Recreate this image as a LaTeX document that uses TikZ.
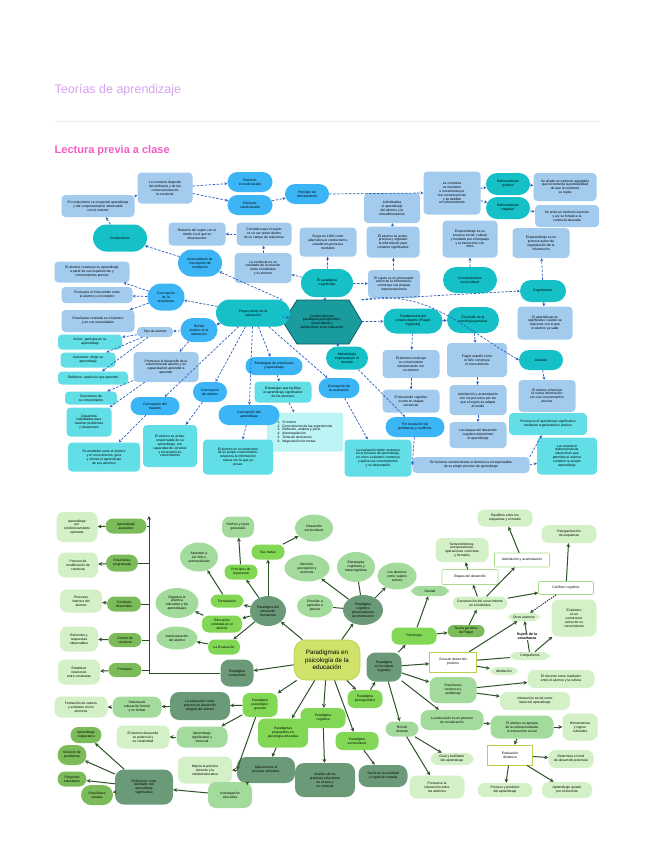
\documentclass[tikz,border=0pt]{standalone}
\usepackage{fontspec}
\setmainfont{Liberation Sans}
\usetikzlibrary{arrows.meta,shapes.misc,shapes.geometric}
\definecolor{purp}{HTML}{D6A4EE}
\definecolor{pink}{HTML}{F25EC4}
\definecolor{sep}{HTML}{E8EDF2}
\definecolor{lbc}{HTML}{A3CBEE}
\definecolor{bbc}{HTML}{3BB5F5}
\definecolor{tlc}{HTML}{15C0C6}
\definecolor{cyc}{HTML}{62DFE6}
\definecolor{pcy}{HTML}{BDF4F6}
\definecolor{hexf}{HTML}{1A9B9E}
\definecolor{hexd}{HTML}{0B5F66}
\definecolor{eblue}{HTML}{2A5FC0}
\definecolor{gdark}{HTML}{6A9A78}
\definecolor{gmed}{HTML}{7BBB5A}
\definecolor{gbri}{HTML}{82D855}
\definecolor{glig}{HTML}{A3DB9C}
\definecolor{gpal}{HTML}{D3F0C6}
\definecolor{gcen}{HTML}{D0E26A}
\definecolor{gcenb}{HTML}{B9D24E}
\definecolor{gwb}{HTML}{A8DC8C}
\definecolor{gedge}{HTML}{2D5227}
\newcommand\nd[7]{\node[#1,minimum width=#5pt,minimum height=#6pt] (#2) at (#3,#4) {#7};}
\tikzset{
  every node/.style={font=\fontsize{3.35}{3.9}\selectfont, align=center, inner sep=0.5pt},
  lb/.style={fill=lbc, rounded corners=4pt},
  bb/.style={fill=bbc, shape=rounded rectangle},
  tl/.style={fill=tlc, shape=rounded rectangle},
  cy/.style={fill=cyc, rounded corners=4pt},
  pc/.style={fill=pcy, rounded corners=2pt},
  e1/.style={draw=eblue, line width=0.7pt, dash pattern=on 2.5pt off 1.5pt, -{Stealth[length=3pt,width=3pt]}},
  gd/.style={fill=gdark, rounded corners=9pt},
  gm/.style={fill=gmed, shape=rounded rectangle},
  gb/.style={fill=gbri, rounded corners=7pt},
  gl/.style={fill=glig, rounded corners=8pt},
  gp/.style={fill=gpal, rounded corners=7pt},
  gw/.style={fill=white, draw=gwb, line width=0.6pt, rounded corners=1pt},
  gy/.style={fill=white, draw=gcenb, line width=0.7pt},
  e2/.style={draw=gedge, line width=1pt, -{Stealth[length=3.8pt,width=3.8pt]}},
  e2n/.style={draw=gedge, line width=1pt},
}
\begin{document}
\begin{tikzpicture}[x=1pt,y=-1pt]
\useasboundingbox[fill=white] (0,0) rectangle (655,848);
% header
\node[anchor=west, font=\fontsize{12.5}{15}\selectfont, text=purp] (title) at (54,90) {Teorías de aprendizaje};
\draw[sep, line width=1pt] (55,122) -- (600,122);
\node[anchor=west, font=\bfseries\fontsize{11}{13}\selectfont, text=pink] (sub) at (54,151) {Lectura previa a clase};

%%%%%%%%%%%%%%%% DIAGRAM 1 %%%%%%%%%%%%%%%%
\fill[hexf, draw=hexd, line width=0.8pt] (283,322) -- (297,300) -- (349,300) -- (362,322) -- (349,344) -- (297,344) -- cycle;
\node[minimum width=79pt, minimum height=44pt] (hex) at (322,322) {Constructivismo:\\paradigma psicogenético,\\sociocultural y\\aplicaciones en la educación};

\nd{tl}{conductismo}{120}{238}{55}{27}{Conductismo}
\nd{lb}{d1b2}{98}{206}{73}{22}{El conductismo se ocupa del aprendizaje\\y del comportamiento observable\\con el entorno}
\nd{lb}{d1b3}{165}{188}{55}{31}{La conducta depende\\del ambiente y de las\\consecuencias de\\la conducta}
\nd{bb}{d1ei}{250}{182}{46}{20}{Estímulo\\incondicionado}
\nd{bb}{d1ec}{250}{205}{46}{20}{Estímulo\\condicionado}
\nd{bb}{d1pr}{307}{194}{45}{20}{Principio de\\reforzamiento}
\nd{lb}{d1b7}{392}{208}{56}{30}{Individualiza\\el aprendizaje\\del alumno y la\\retroalimentación}
\nd{lb}{d1b8}{452}{193}{57}{43}{La conducta\\se mantiene\\o incrementa por\\sus consecuencias\\y se debilita\\sin reforzamiento}
\nd{tl}{d1rp}{508}{184}{45}{22}{Reforzamiento\\positivo}
\nd{tl}{d1rn}{508}{208}{45}{22}{Reforzamiento\\negativo}
\nd{lb}{d1b11}{565}{187}{63}{28}{Se añade un estímulo agradable\\que incrementa la probabilidad\\de que la conducta\\se repita}
\nd{lb}{d1b12}{567}{216}{64}{22}{Se retira un estímulo aversivo\\y así se fortalece la\\conducta deseada}
\nd{lb}{d1b13}{470}{239}{55}{37}{El aprendizaje es un\\proceso social, cultural\\y mediado por el lenguaje\\y la interacción con\\otros}
\nd{lb}{d1b14}{541}{243}{57}{30}{El aprendizaje es un\\proceso activo de\\organización de la\\información}
\nd{tl}{d1cs}{470}{280}{55}{26}{Constructivismo\\sociocultural}
\nd{tl}{d1cg}{543}{291}{47}{22}{Cognitivismo}
\nd{tl}{d1pc}{327}{283}{53}{28}{El paradigma\\cognitivista}
\nd{lb}{d1b18}{328}{242}{57}{29}{Surge en 1950 como\\alternativa al conductismo,\\estudia los procesos\\mentales}
\nd{lb}{d1b19}{393}{242}{53}{31}{El alumno es activo,\\procesa y organiza\\la información para\\construir significados}
\nd{lb}{d1b20}{394}{284}{52}{28}{El sujeto es un procesador\\activo de la información,\\construye sus propias\\representaciones}
\nd{lb}{d1b21}{264}{234}{55}{23}{Considera que el sujeto\\es un ser activo dentro\\de un campo de relaciones}
\nd{lb}{d1b22}{263}{268}{57}{30}{La conducta es un\\resultado de la relación\\entre el individuo\\y su entorno}
\nd{lb}{d1b23}{197}{234}{57}{23}{Relación del sujeto con el\\medio en el que se\\desenvuelve}
\nd{bb}{d1b24}{200}{263}{45}{27}{Acercamiento de\\concepción de\\mediación}
\nd{lb}{d1b25}{92}{272}{75}{21}{El alumno construye su aprendizaje\\a partir de sus experiencias y\\conocimientos previos}
\nd{lb}{d1b26}{97}{295}{71}{16}{Promueve el intercambio entre\\el alumno y el contexto}
\nd{bb}{d1ce}{166}{297}{38}{27}{Concepción\\de la\\enseñanza}
\nd{tl}{d1pe}{253}{313}{75}{27}{Proyecciones en la\\educación}
\nd{tl}{d1fu}{413}{321}{60}{25}{Fundamentos del\\constructivismo (Piaget,\\Vygotsky)}
\nd{tl}{d1ed}{473}{320}{53}{26}{El estudio de la\\psicología genética}
\nd{lb}{d1b32}{545}{323}{55}{33}{El aprendizaje es\\significativo cuando se\\relaciona con lo que\\el alumno ya sabe}
\nd{tl}{d1au}{541}{360}{45}{20}{Ausubel}
\nd{lb}{d1b34}{547}{396}{57}{32}{El alumno relaciona\\la nueva información\\con sus conocimientos\\previos}
\nd{cy}{d1b35}{548}{424}{78}{22}{Promueve el aprendizaje significativo\\mediante organizadores previos}
\nd{cy}{d1b36}{567}{456}{60}{37}{Los maestros\\deben propiciar\\situaciones que\\permitan al alumno\\construir su propio\\aprendizaje}
\nd{lb}{d1b37}{411}{364}{57}{28}{El alumno construye\\su conocimiento\\interactuando con\\su entorno}
\nd{lb}{d1b38}{411}{401}{57}{23}{El desarrollo cognitivo\\ocurre en etapas\\sucesivas}
\nd{bb}{d1rs}{415}{427}{60}{20}{Por resolución de\\problemas y conflictos}
\nd{lb}{d1b40}{477}{360}{60}{34}{Piaget estudió cómo\\el niño construye\\el conocimiento}
\nd{lb}{d1b41}{478}{400}{57}{30}{Asimilación y acomodación\\son los procesos por los\\que el sujeto se adapta\\al medio}
\nd{lb}{d1b42}{478}{435}{57}{26}{Las etapas del desarrollo\\cognitivo determinan\\el aprendizaje}
\nd{lb}{d1b43}{471}{465}{117}{16}{En la forma constructivista el alumno es el responsable\\de su propio proceso de aprendizaje}
\nd{cy}{d1b44}{378}{458}{67}{37}{La evaluación debe centrarse\\en el proceso de aprendizaje,\\en cómo el alumno construye\\y aplica sus conocimientos\\y su desempeño}
\nd{tl}{d1me}{347}{358}{43}{23}{Metodología\\empleada por el\\docente}
\nd{bb}{d1ev}{339}{388}{42}{20}{Concepción de\\la evaluación}
\nd{bb}{d1es}{274}{366}{58}{18}{Estrategias de enseñanza\\y aprendizaje}
\nd{cy}{d1b48}{283}{392}{57}{21}{Estrategias que facilitan\\el aprendizaje significativo\\de los alumnos}
\node[pc, minimum width=76pt, minimum height=39pt, align=left] (d1b49) at (305,432) {1.\ \ Sí mismo\\2.\ \ Conocimiento de las experiencias\\3.\ \ Reflexión, análisis y juicio\\4.\ \ Autorregulación\\5.\ \ Toma de decisiones\\6.\ \ Negociación de metas};
\nd{cy}{d1b50}{238}{457}{70}{35}{El alumno es el constructor\\de su propio conocimiento,\\relaciona la información\\nueva con la que ya\\posee}
\nd{bb}{d1ca}{249}{415}{62}{20}{Concepción del\\aprendizaje}
\nd{bb}{d1cal}{210}{392}{35}{20}{Concepción\\del alumno}
\nd{cy}{d1b53}{170}{446}{54}{42}{El alumno es activo,\\responsable de su\\aprendizaje, con\\capacidad de construir\\y reconstruir su\\conocimiento}
\nd{bb}{d1cm}{155}{406}{50}{18}{Concepción del\\maestro}
\nd{lb}{d1b55}{166}{367}{65}{30}{Promueve el desarrollo de la\\autonomía del alumno y su\\capacidad de aprender a\\aprender}
\nd{bb}{d1ra}{199}{330}{38}{24}{Rol del\\alumno en la\\educación}
\nd{lb}{d1tipo}{155}{332}{36}{10}{Tipo de alumno}
\nd{cy}{d1b58}{90}{342}{64}{15}{Activo: participa en su\\aprendizaje}
\nd{cy}{d1b59}{88}{360}{55}{15}{Autónomo: dirige su\\aprendizaje}
\nd{cy}{d1b60}{93}{378}{70}{13}{Reflexivo: analiza lo que aprende}
\nd{cy}{d1b61}{91}{398}{52}{13}{Constructor de\\su conocimiento}
\nd{cy}{d1b62}{89}{422}{45}{29}{Desarrolla\\habilidades para\\resolver problemas\\y situaciones}
\nd{cy}{d1b63}{104}{457}{72}{29}{Es mediador entre el alumno\\y el conocimiento, guía\\y orienta el aprendizaje\\de sus alumnos}
\nd{lb}{d1b64}{98}{321}{73}{22}{Enseñanza centrada en el alumno\\y en sus necesidades}

% edges diagram 1
\draw[e1] (conductismo) -- (d1b2);
\draw[e1] (d1b2) -- (d1b3);
\draw[e1] (d1b3) -- (d1ei);
\draw[e1] (d1b3) -- (d1ec);
\draw[e1] (d1ec) -- (d1pr);
\draw[e1] (d1pr.east) -- (d1b8.west);
\draw[e1] (d1b8) -- (d1rp);
\draw[e1] (d1b8) -- (d1rn);
\draw[e1] (d1rp) -- (d1b11);
\draw[e1] (d1rn) -- (d1b12);
\draw[e1] (d1b19) -- (d1b7);
\draw[e1] (d1b20) -- (d1b19);
\draw[e1] (d1pc) -- (d1b18);
\draw[e1] (d1pc) -- (d1b20);
\draw[e1] (d1pc) -- (d1b22);
\draw[e1] (d1b22) -- (d1b21);
\draw[e1] (d1b21) -- (d1b23);
\draw[e1] (hex) -- (d1pc);
\draw[e1] (hex.north west) -- (d1b24);
\draw[e1] (d1b24) -- (conductismo);
\draw[e1] (hex.north east) -- (d1cg.west);
\draw[e1] (hex.north east) to[out=10,in=150] (d1au.west);
\draw[e1] (d1cg) -- (d1b14);
\draw[e1] (d1cg) -- (d1b32);
\draw[e1] (d1cs) -- (d1b13);
\draw[e1] (d1au) -- (d1b34);
\draw[e1] (d1b43.north east) -- (d1b35);
\draw[e1] (d1b43.east) -- (d1b36);
\draw[e1] (hex) -- (d1fu);
\draw[e1] (d1fu) -- (d1ed);
\draw[e1] (d1fu) -- (d1b37);
\draw[e1] (d1b37) -- (d1b38);
\draw[e1] (d1ed) -- (d1b40);
\draw[e1] (d1b40) -- (d1b41);
\draw[e1] (d1b41) -- (d1b42);
\draw[e1] (hex) -- (d1me);
\draw[e1] (d1me) -- (d1rs);
\draw[e1] (d1rs) -- (d1b43.west);
\draw[e1] (hex) -- (d1pe);
\draw[e1] (d1pe) -- (d1ce);
\draw[e1] (d1pe) -- (d1ra);
\draw[e1] (d1pe) -- (d1es);
\draw[e1] (d1pe) -- (d1ev);
\draw[e1] (d1pe) -- (d1ca);
\draw[e1] (d1pe) -- (d1cal);
\draw[e1] (d1pe) -- (d1cm);
\draw[e1] (d1ce) -- (d1b25);
\draw[e1] (d1ce) -- (d1b26);
\draw[e1] (d1ce) -- (d1b64);
\draw[e1] (d1ra) -- (d1tipo);
\draw[e1] (d1tipo) -- (d1b58);
\draw[e1] (d1tipo) -- (d1b59);
\draw[e1] (d1tipo) -- (d1b60);
\draw[e1] (d1ra) -- (d1b55);
\draw[e1] (d1b55) -- (d1b61);
\draw[e1] (d1b55) -- (d1b62);
\draw[e1] (d1cm) -- (d1b63);
\draw[e1] (d1cal) -- (d1b53);
\draw[e1] (d1ca) -- (d1b50);
\draw[e1] (d1es) -- (d1b48);
\draw[e1] (d1b48) -- (d1b49);
\draw[e1] (d1ev) -- (d1b44);

%%%%%%%%%%%%%%%% DIAGRAM 2 %%%%%%%%%%%%%%%%
\node[fill=gcen, draw=gcenb, line width=0.8pt, rounded corners=12pt, minimum width=66pt, minimum height=40pt, font=\fontsize{6.3}{7.6}\selectfont] (g_c) at (327,660) {Paradigmas en\\psicología de la\\educación};

% left column
\nd{gp}{g_l1}{77}{527}{41}{30}{Aprendizaje\\por\\condicionamiento\\operante}
\nd{gm}{g_p1}{126}{526}{42}{15}{Aprendizaje\\asociativo}
\nd{gp}{g_l2}{78}{565}{40}{25}{Proceso de\\modificación de\\conducta}
\nd{gm}{g_p2}{122}{563}{33}{17}{Enseñanza\\programada}
\nd{gp}{g_l3}{81}{601}{42}{23}{Procesos\\internos del\\alumno}
\nd{gm}{g_p3}{124}{604}{35}{15}{Conducta\\observable}
\nd{gp}{g_l4}{79}{639}{38}{25}{Estímulos y\\respuestas\\observables}
\nd{gm}{g_p4}{125}{640}{34}{14}{Control de\\conducta}
\nd{gp}{g_l5}{79}{672}{42}{25}{Establece\\relaciones\\entre conductas}
\nd{gm}{g_p5}{125}{670}{34}{14}{Principios}
\nd{gd}{g_d1}{237}{673}{33}{27}{Paradigma\\conductista}
\coordinate (vb) at (149,673);
\coordinate (vt) at (149,516);

% humanist cluster
\node[fill=gdark, ellipse, minimum width=36pt, minimum height=30pt] (g_hum) at (268,611) {Paradigma del\\desarrollo\\humanista};
\nd{gb}{g_metas}{268}{552}{33}{15}{Sus metas}
\nd{gl}{g_hech}{238}{527}{32}{21}{Hechos y leyes\\generales}
\node[fill=glig, ellipse, minimum width=38pt, minimum height=27pt] (g_m1) at (314,528) {Desarrollo\\sociocultural};
\nd{gb}{g_pr}{241}{572}{33}{15}{Principios de\\la persona}
\node[fill=glig, ellipse, minimum width=38pt, minimum height=29pt] (g_l6) at (199,557) {Aprender a\\ser feliz y\\autorrealizado};
\nd{gb}{g_fo}{227}{601}{33}{13}{Formulación}
\node[fill=glig, ellipse, minimum width=43pt, minimum height=30pt] (g_l7) at (177,603) {Organiza la\\práctica\\educativa y los\\aprendizajes};
\nd{gb}{g_ed}{222}{624}{40}{17}{Educación\\centrada en el\\alumno}
\nd{gb}{g_ev}{224}{647}{32}{15}{La Evaluación}
\node[fill=glig, ellipse, minimum width=41pt, minimum height=23pt] (g_l8) at (177,638) {Autoevaluación\\del alumno};

% cognitive cluster
\node[fill=gdark, ellipse, minimum width=40pt, minimum height=30pt] (g_cog) at (363,610) {Paradigma\\cognitivo\\procesamiento\\de información};
\node[fill=glig, ellipse, minimum width=45pt, minimum height=27pt] (g_l9) at (307,568) {Atención,\\percepción y\\memoria};
\node[fill=glig, ellipse, minimum width=36pt, minimum height=23pt] (g_l10) at (315,606) {Enseñar a\\aprender a\\pensar};
\node[fill=glig, ellipse, minimum width=38pt, minimum height=30pt] (g_l11) at (356,567) {Estrategias\\cognitivas y\\metacognitivas};
\node[fill=glig, ellipse, minimum width=39pt, minimum height=27pt] (g_l12) at (397,576) {Los alumnos\\como sujetos\\activos};

% right cluster
\nd{gb}{g_psi}{414}{636}{45}{17}{Psicología}
\nd{gl}{g_ges}{430}{591}{38}{10}{Gestalt}
\nd{gm}{g_psi2}{466}{631}{38}{12}{Teoría genética\\de Piaget}
\nd{gp}{g_r1}{480}{603}{55}{13}{Construcción del conocimiento\\en el individuo}
\nd{gw}{g_w1}{470}{577}{56}{15}{Etapas del desarrollo}
\nd{gp}{g_p11}{462}{550}{53}{24}{Sensoriomotora,\\preoperacional,\\operaciones concretas\\y formales}
\nd{gw}{g_w2}{522}{560}{55}{14}{Asimilación y acomodación}
\nd{gp}{g_p12}{505}{518}{55}{17}{Equilibrio entre los\\esquemas y el medio}
\nd{gw}{g_w3}{566}{588}{55}{13}{Conflicto cognitivo}
\nd{gp}{g_p13}{569}{534}{55}{18}{Reorganización\\de esquemas}
\nd{gp}{g_o1}{524}{617}{32}{8}{Otros alumnos}
\nd{gp}{g_p14}{574}{618}{45}{37}{El alumno\\es un\\constructor\\activo de su\\conocimiento}
\nd{gp}{g_a1}{530}{656}{40}{8}{Compañeros}
\nd{gy}{g_w4}{453}{662}{47}{20}{Zona de desarrollo\\próximo}
\nd{gp}{g_a2}{504}{671}{28}{8}{Mediación}
\nd{gd}{g_soc}{384}{667}{35}{29}{Paradigma\\sociocultural\\Vygotsky}
\nd{gl}{g_m2}{453}{690}{47}{26}{Enseñanza\\recíproca y\\andamiaje}
\nd{gp}{g_p15}{561}{679}{67}{18}{El docente como mediador\\entre el alumno y la cultura}
\nd{gp}{g_p16}{535}{701}{70}{18}{Interacción social como\\base del aprendizaje}
\nd{gl}{g_m3}{452}{720}{63}{20}{La educación es un proceso\\de socialización}
\nd{gl}{g_l13}{522}{727}{63}{23}{El alumno se apropia\\de la cultura mediante\\la interacción social}
\nd{gp}{g_p17}{580}{727}{35}{27}{Herramientas\\y signos\\culturales}
\nd{gy}{g_w5}{510}{755}{45}{20}{Evaluación\\dinámica}
\nd{gp}{g_p18}{571}{759}{45}{18}{Determina el nivel\\de desarrollo potencial}
\nd{gp}{g_p19}{505}{790}{55}{14}{Proceso y producto\\del aprendizaje}
\nd{gp}{g_p20}{567}{790}{50}{16}{Aprendizaje guiado\\por el docente}
\nd{gl}{g_l14}{402}{729}{33}{15}{Rol del\\docente}
\nd{gp}{g_p21}{452}{759}{43}{12}{Guía y facilitador\\del aprendizaje}
\nd{gp}{g_p22}{437}{787}{55}{23}{Promueve la\\interacción entre\\los alumnos}

% lower paradigms
\nd{gb}{g_b1}{365}{699}{35}{18}{Paradigma\\psicogenético}
\nd{gb}{g_b2}{323}{718}{45}{20}{Paradigma\\cognitivo}
\nd{gb}{g_b3}{357}{741}{43}{18}{Paradigma\\sociocultural}
\nd{gb}{g_b4}{283}{733}{50}{29}{Paradigmas\\propuestos en\\psicología educativa}
\nd{gb}{g_b5}{260}{705}{35}{24}{Paradigma\\psicológico\\general}
\nd{gd}{g_d2}{383}{776}{49}{22}{Teoría de la actividad\\y cognición situada}
\nd{gd}{g_d3}{325}{780}{60}{34}{Análisis de las\\prácticas educativas\\en el aula y\\su contexto}
\nd{gd}{g_d4}{200}{706}{60}{28}{La educación como\\proceso de desarrollo\\integral del alumno}
\nd{gl}{g_m4}{137}{707}{49}{21}{Sistema de\\educación formal\\y no formal}
\nd{gp}{g_p23}{81}{707}{53}{21}{Formación de valores\\y actitudes en los\\alumnos}
\nd{gl}{g_l15}{202}{737}{51}{21}{Aprendizaje\\significativo y\\vivencial}
\nd{gp}{g_p24}{143}{737}{53}{23}{El alumno desarrolla\\su potencial y\\su creatividad}
\nd{gd}{g_d5}{266}{770}{58}{26}{Aplicaciones al\\proceso educativo}
\nd{gp}{g_p25}{205}{770}{54}{27}{Mejora la práctica\\docente y la\\calidad educativa}
\nd{gl}{g_l16}{230}{795}{44}{26}{Investigación\\educativa}
\nd{gd}{g_d6}{144}{787}{58}{35}{El docente como\\facilitador del\\aprendizaje\\significativo}
\nd{gm}{g_m5}{86}{735}{32}{16}{Aprendizaje\\cooperativo}
\nd{gm}{g_m6}{72}{755}{30}{20}{Solución de\\problemas}
\nd{gm}{g_m7}{72}{779}{30}{15}{Proyectos\\educativos}
\nd{gm}{g_m8}{97}{795}{33}{20}{Enseñanza\\situada}

% edges diagram 2
\draw[e2] (g_c) -- (g_d1);
\draw[e2n] (g_d1.west) -- (vb);
\draw[e2] (vb) -- (vt);
\foreach \p/\l in {g_p1/g_l1, g_p2/g_l2, g_p3/g_l3, g_p4/g_l4, g_p5/g_l5}{
  \draw[e2n] (\p.east) -- (\p.east -| vb);
  \draw[e2] (\p) -- (\l);
}
\draw[e2] (g_c) -- (g_hum);
\draw[e2] (g_hum) -- (g_metas);
\draw[e2] (g_hum) -- (g_pr);
\draw[e2] (g_hum) -- (g_fo);
\draw[e2] (g_hum) -- (g_ed);
\draw[e2] (g_hum) -- (g_ev);
\draw[e2] (g_metas) -- (g_m1);
\draw[e2] (g_pr) -- (g_hech);
\draw[e2] (g_fo) -- (g_l6);
\draw[e2] (g_ed) -- (g_l7);
\draw[e2] (g_ev) -- (g_l8);
\draw[e2] (g_c) -- (g_cog);
\draw[e2] (g_cog) -- (g_l9);
\draw[e2n] (g_cog) -- (g_l10);
\draw[e2n] (g_cog) -- (g_l11);
\draw[e2] (g_cog) -- (g_l12);
\draw[e2] (g_c) -- (g_b1);
\draw[e2] (g_b1) -- (g_soc);
\draw[e2] (g_soc) -- (g_psi);
\draw[e2] (g_psi) -- (g_ges);
\draw[e2] (g_psi) -- (g_psi2);
\draw[e2] (g_psi2) -- (g_r1);
\draw[e2] (g_r1) -- (g_w1);
\draw[e2] (g_r1) -- (g_w2);
\draw[e2] (g_r1) -- (g_w3);
\draw[e2] (g_w1) -- (g_p11);
\draw[e2] (g_w2) -- (g_p12);
\draw[e2] (g_w3) -- (g_p13);
\draw[e2, dash pattern=on 1.5pt off 1pt] (g_w3) -- (g_o1);
\draw[e2] (g_a1) -- node[fill=white, font=\bfseries\fontsize{3.6}{4.2}\selectfont, inner sep=0.5pt] (g_lab) {Sujeto de la\\enseñanza} (g_o1);
\draw[e2] (g_a1) -- (g_p14);
\draw[e2] (g_w4) -- (g_o1);
\draw[e2n] (g_w4) -- (g_a1);
\draw[e2] (g_w4) -- (g_a2);
\draw[e2] (g_soc) -- (g_w4);
\draw[e2] (g_soc) -- (g_m2);
\draw[e2] (g_soc) -- (g_m3);
\draw[e2] (g_soc) -- (g_l14);
\draw[e2] (g_m2) -- (g_p15);
\draw[e2] (g_m2) -- (g_p16);
\draw[e2] (g_m3) -- (g_l13);
\draw[e2] (g_l13) -- (g_p17);
\draw[e2] (g_l13) -- (g_w5);
\draw[e2] (g_w5) -- (g_p18);
\draw[e2] (g_w5) -- (g_p19);
\draw[e2] (g_w5) -- (g_p20);
\draw[e2] (g_l14) -- (g_p21);
\draw[e2] (g_l14) -- (g_p22);
\draw[e2] (g_c) -- (g_b2);
\draw[e2] (g_c) -- (g_b3);
\draw[e2] (g_c) -- (g_b4);
\draw[e2] (g_c) -- (g_b5);
\draw[e2] (g_b3) -- (g_d2);
\draw[e2] (g_b2) -- (g_d3);
\draw[e2] (g_b4) -- (g_d5);
\draw[e2] (g_b5) -- (g_d4);
\draw[e2] (g_b5) -- (g_l15);
\draw[e2] (g_b5) -- (g_d5.west);
\draw[e2] (g_d4) -- (g_m4);
\draw[e2] (g_m4) -- (g_p23);
\draw[e2] (g_l15) -- (g_p24);
\draw[e2] (g_d5) -- (g_p25);
\draw[e2] (g_d5) -- (g_l16);
\draw[e2] (g_l16) -- (g_d6);
\draw[e2] (g_d6) -- (g_m5);
\draw[e2] (g_d6) -- (g_m6);
\draw[e2] (g_d6) -- (g_m7);
\draw[e2] (g_d6) -- (g_m8);
\end{tikzpicture}
\end{document}
